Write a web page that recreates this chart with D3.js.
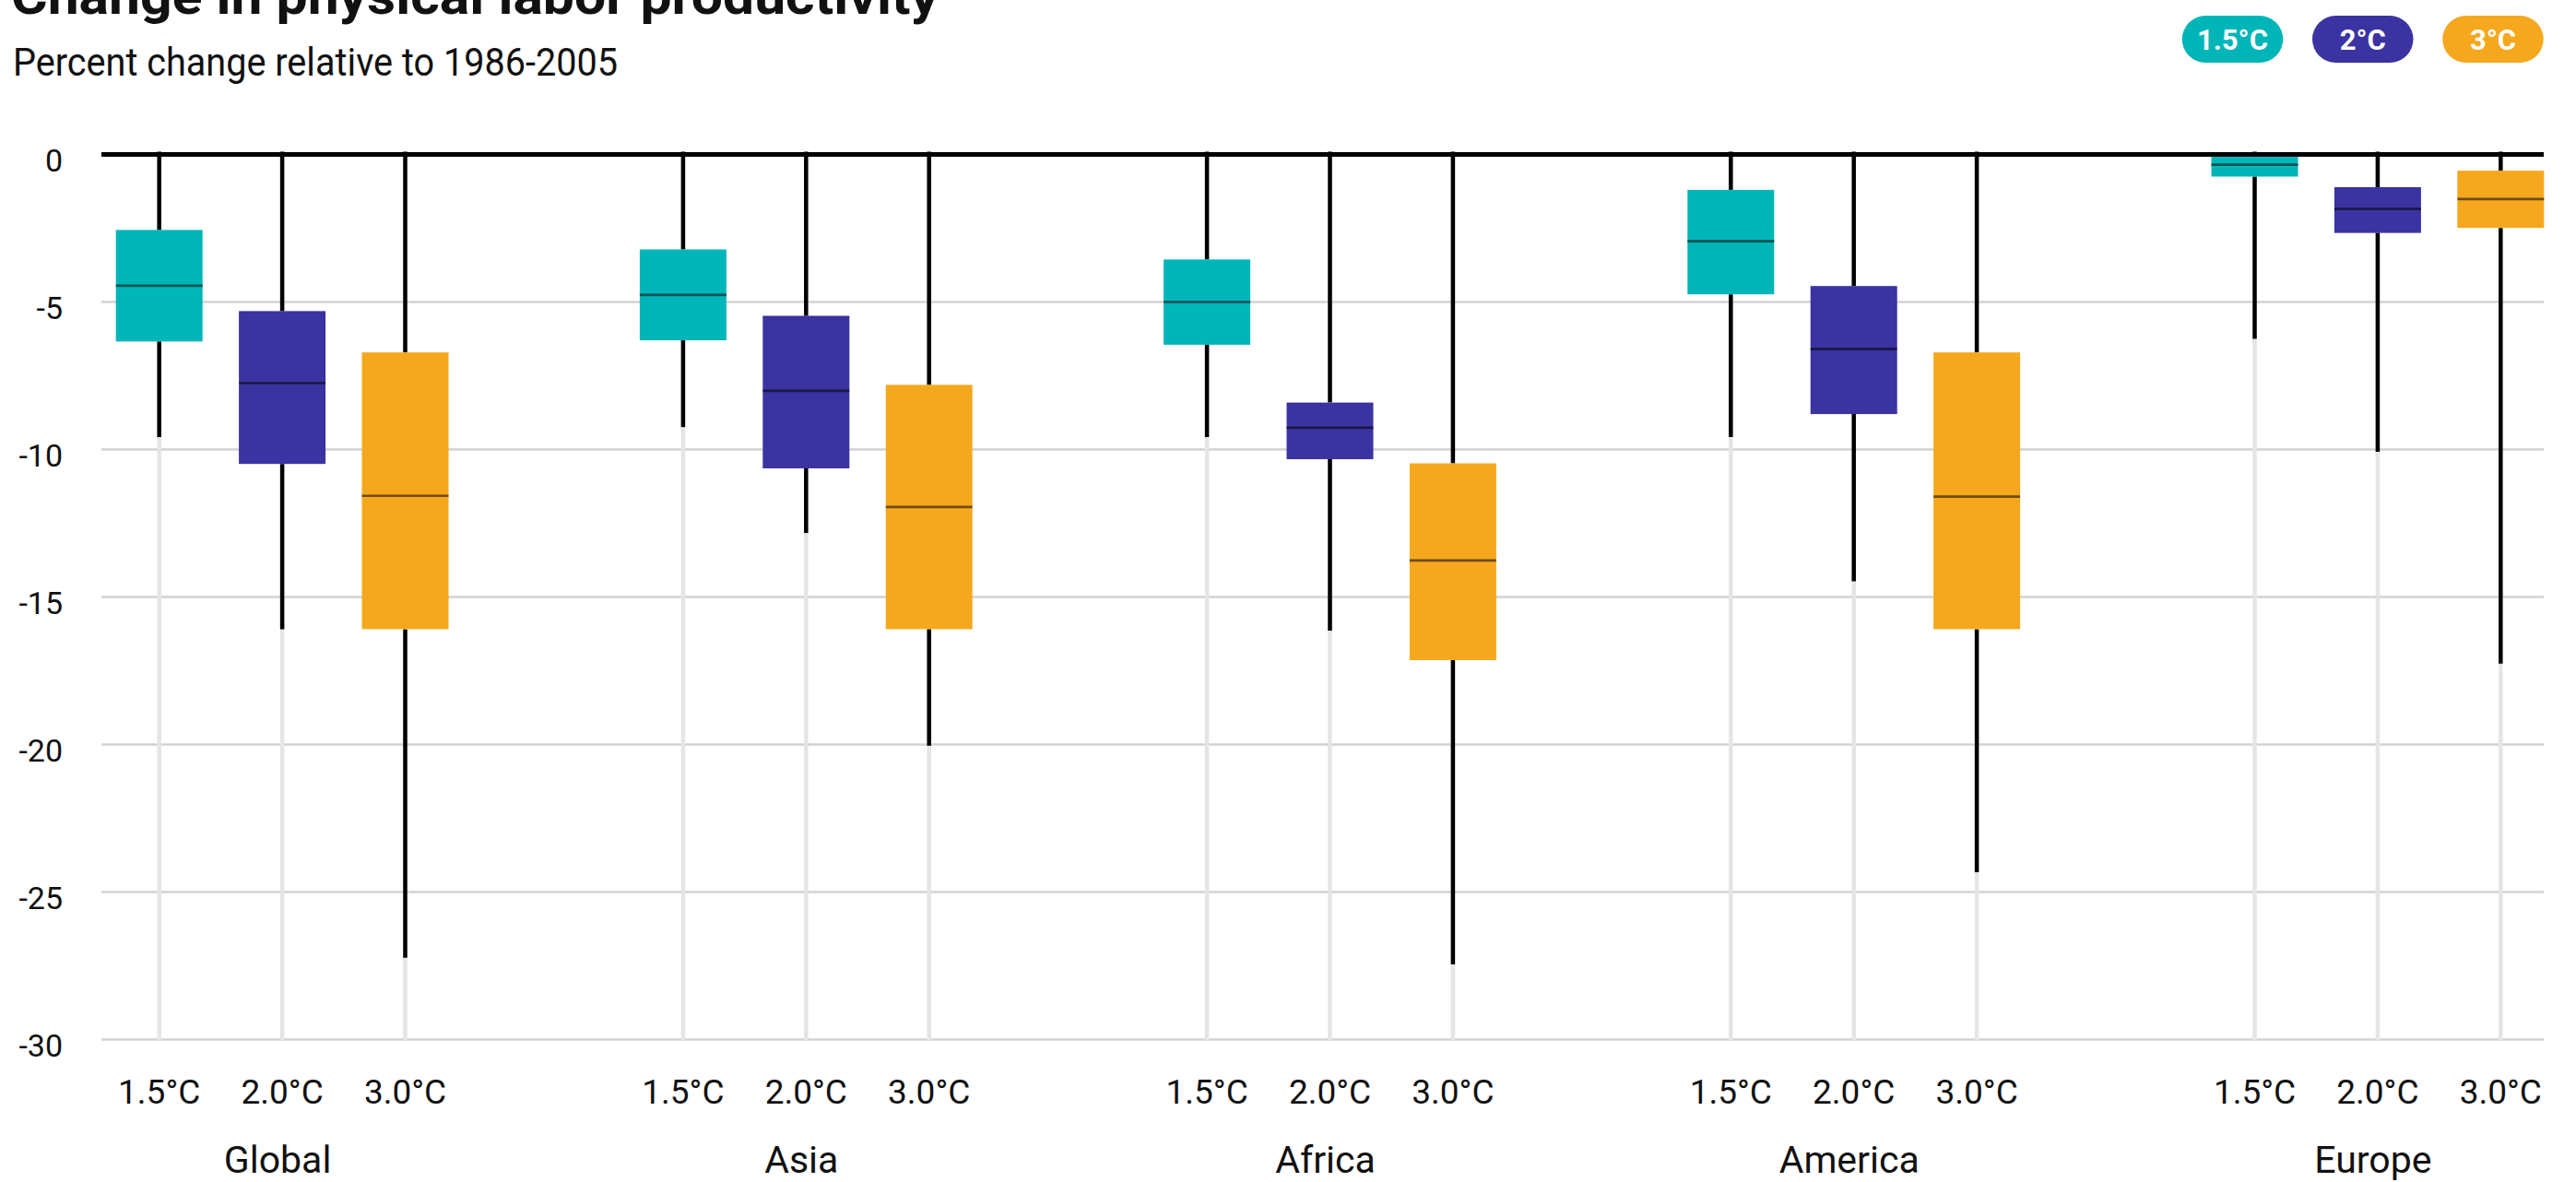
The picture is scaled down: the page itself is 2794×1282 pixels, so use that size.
<!DOCTYPE html>
<html>
<head>
<meta charset="utf-8">
<script src="https://cdn.jsdelivr.net/npm/d3@7"></script>
<style>
  html, body { margin: 0; padding: 0; background: #fff; overflow: hidden; }
  svg { display: block; }
  text { font-family: Roboto, "Noto Sans", sans-serif; fill: #111; }
</style>
</head>
<body>
<svg id="chart" width="2794" height="1282"></svg>
<script>
// ---------------- data ----------------
const regions = ["Global", "Asia", "Africa", "America", "Europe"];
const scenarios = ["1.5°C", "2.0°C", "3.0°C"];
const legendLabels = ["1.5°C", "2°C", "3°C"];
const colors = ["#00B5B8", "#3A33A1", "#F5A81E"];
const yTicks = [0, -5, -10, -15, -20, -25, -30];

// per region: [1.5°C, 2.0°C, 3.0°C]
const whiskerHigh = [
  [0, 0, 0],
  [0, 0, 0],
  [0, 0, 0],
  [0, 0, 0],
  [0, 0, 0]
];
const q3 = [
  [-2.56, -5.31, -6.71],
  [-3.22, -5.47, -7.81],
  [-3.56, -8.41, -10.47],
  [-1.20, -4.46, -6.71],
  [-0.05, -1.11, -0.55]
];
const median = [
  [-4.45, -7.75, -11.57],
  [-4.76, -8.01, -11.95],
  [-5.00, -9.26, -13.76],
  [-2.94, -6.60, -11.60],
  [-0.35, -1.85, -1.51]
];
const q1 = [
  [-6.34, -10.49, -16.09],
  [-6.30, -10.64, -16.09],
  [-6.45, -10.33, -17.14],
  [-4.74, -8.80, -16.09],
  [-0.75, -2.66, -2.49]
];
const whiskerLow = [
  [-9.58, -16.09, -27.23],
  [-9.24, -12.83, -20.04],
  [-9.58, -16.14, -27.45],
  [-9.58, -14.47, -24.33],
  [-6.25, -10.08, -17.26]
];

// ---------------- layout ----------------
const svg = d3.select("#chart");
const plotX0 = 110, plotX1 = 2759;
const boxW = 94;

const y = d3.scaleLinear().domain([0, -30]).range([167.5, 1127.5]);
const gx = d3.scaleBand().domain(regions).range([22, 2863]);
const ix = d3.scalePoint().domain(scenarios).range([-133.4, 133.4]);
const cx = (r, s) => gx(r) + gx.bandwidth() / 2 + ix(s);

const rows = [];
regions.forEach((r, i) => scenarios.forEach((s, j) => {
  rows.push({ region: r, scen: s, color: colors[j],
    hi: whiskerHigh[i][j], q3: q3[i][j], med: median[i][j], q1: q1[i][j], lo: whiskerLow[i][j] });
}));

// ---------------- title ----------------
svg.append("text")
  .attr("x", 12).attr("y", 15)
  .attr("font-size", 56).attr("font-weight", 700)
  .attr("textLength", 1006).attr("lengthAdjust", "spacingAndGlyphs")
  .text("Change in physical labor productivity");

svg.append("text")
  .attr("x", 14).attr("y", 82)
  .attr("font-size", 42).attr("font-weight", 400)
  .attr("textLength", 656).attr("lengthAdjust", "spacingAndGlyphs")
  .text("Percent change relative to 1986-2005");

// ---------------- legend ----------------
const lx = d3.scalePoint().domain(legendLabels).range([2421.5, 2704]);
const leg = svg.append("g").selectAll("g").data(legendLabels).join("g")
  .attr("transform", d => `translate(${lx(d)},0)`);
leg.append("rect")
  .attr("x", -54.75).attr("y", 17).attr("width", 109.5).attr("height", 51)
  .attr("rx", 25.5).attr("ry", 25.5)
  .attr("fill", (d, i) => colors[i]);
leg.append("text")
  .attr("x", 0).attr("y", 54)
  .attr("text-anchor", "middle")
  .attr("font-size", 31).attr("font-weight", 700)
  .style("fill", "#fff")
  .text(d => d);

// ---------------- grid ----------------
const grid = svg.append("g");
grid.selectAll("line.h").data(yTicks.filter(t => t !== 0)).join("line")
  .attr("class", "h")
  .attr("x1", plotX0).attr("x2", plotX1)
  .attr("y1", d => y(d)).attr("y2", d => y(d))
  .attr("stroke", "#d2d2d2").attr("stroke-width", 2.7);

grid.selectAll("line.v").data(rows).join("line")
  .attr("class", "v")
  .attr("x1", d => cx(d.region, d.scen)).attr("x2", d => cx(d.region, d.scen))
  .attr("y1", y(0)).attr("y2", y(-30) + 1.5)
  .attr("stroke", "#e5e5e5").attr("stroke-width", 4.5);

// y axis labels
const yAxis = d3.axisLeft(y).tickValues(yTicks).tickSize(0).tickPadding(42)
  .tickFormat(d => String(d));
const ya = svg.append("g").attr("transform", `translate(${plotX0},0)`).call(yAxis);
ya.select(".domain").remove();
ya.selectAll("text")
  .attr("font-size", 34).attr("dy", "0.53em")
  .style("font-family", "Roboto, sans-serif").style("fill", "#111");

// ---------------- boxes ----------------
const bx = svg.append("g");
// whiskers
bx.selectAll("line.wu").data(rows).join("line")
  .attr("class", "wu")
  .attr("x1", d => cx(d.region, d.scen)).attr("x2", d => cx(d.region, d.scen))
  .attr("y1", d => y(d.hi) - 3).attr("y2", d => y(d.q3))
  .attr("stroke", "#000").attr("stroke-width", 4.5);
bx.selectAll("line.wl").data(rows).join("line")
  .attr("class", "wl")
  .attr("x1", d => cx(d.region, d.scen)).attr("x2", d => cx(d.region, d.scen))
  .attr("y1", d => y(d.q1)).attr("y2", d => y(d.lo))
  .attr("stroke", "#000").attr("stroke-width", 4.5);

// zero line
svg.append("line")
  .attr("x1", plotX0).attr("x2", plotX1)
  .attr("y1", y(0)).attr("y2", y(0))
  .attr("stroke", "#000").attr("stroke-width", 5);

bx.selectAll("rect").data(rows).join("rect")
  .attr("x", d => cx(d.region, d.scen) - boxW / 2)
  .attr("width", boxW)
  .attr("y", d => y(d.q3))
  .attr("height", d => y(d.q1) - y(d.q3))
  .attr("fill", d => d.color);
bx.selectAll("line.med").data(rows).join("line")
  .attr("class", "med")
  .attr("x1", d => cx(d.region, d.scen) - boxW / 2)
  .attr("x2", d => cx(d.region, d.scen) + boxW / 2)
  .attr("y1", d => y(d.med)).attr("y2", d => y(d.med))
  .attr("stroke", "#000").attr("stroke-opacity", 0.55).attr("stroke-width", 2.7);

// ---------------- x labels ----------------
svg.append("g").selectAll("text").data(rows).join("text")
  .attr("x", d => cx(d.region, d.scen))
  .attr("y", 1197)
  .attr("text-anchor", "middle")
  .attr("font-size", 37)
  .text(d => d.scen);

svg.append("g").selectAll("text").data(regions).join("text")
  .attr("x", d => gx(d) + gx.bandwidth() / 2 - 5)
  .attr("y", 1272)
  .attr("text-anchor", "middle")
  .attr("font-size", 41)
  .text(d => d);
</script>
</body>
</html>
